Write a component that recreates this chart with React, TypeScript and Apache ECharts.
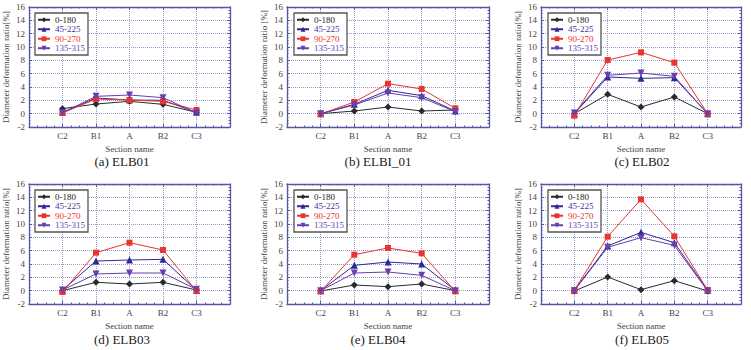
import React, { useEffect, useRef } from 'react';
import * as echarts from 'echarts';

// Section positions along the elbow and measured diametral directions
const sections = ['C2', 'B1', 'A', 'B2', 'C3'];
const directions = ['0-180', '45-225', '90-270', '135-315'];

// Diameter deformation ratio [%] per direction (rows follow `directions`)
const elb01 = [
  [0.75, 1.45, 1.85, 1.4, 0.2],
  [0.2, 2.35, 2.05, 2.0, 0.2],
  [0.1, 2.2, 2.05, 1.85, 0.55],
  [0.15, 2.6, 2.8, 2.4, 0.1],
];
const elbi01 = [
  [0.0, 0.4, 1.0, 0.4, 0.55],
  [0.0, 1.4, 3.5, 2.7, 0.4],
  [-0.05, 1.75, 4.5, 3.7, 0.8],
  [0.0, 1.3, 3.1, 2.4, 0.3],
];
const elb02 = [
  [0.0, 2.9, 1.0, 2.5, 0.0],
  [0.0, 5.5, 5.3, 5.4, 0.0],
  [-0.3, 8.05, 9.2, 7.65, 0.0],
  [0.1, 5.75, 6.1, 5.6, -0.05],
];
const elb03 = [
  [0.0, 1.25, 1.0, 1.25, 0.1],
  [0.1, 4.45, 4.6, 4.7, 0.05],
  [-0.2, 5.7, 7.2, 6.1, -0.05],
  [0.1, 2.5, 2.65, 2.65, 0.2],
];
const elb04 = [
  [-0.05, 0.85, 0.6, 1.0, 0.0],
  [0.0, 3.8, 4.3, 4.0, 0.05],
  [-0.1, 5.4, 6.4, 5.6, -0.1],
  [0.0, 2.65, 2.8, 2.3, 0.0],
];
const elb05 = [
  [-0.05, 2.05, 0.15, 1.5, -0.05],
  [0.05, 6.7, 8.75, 7.2, 0.05],
  [0.05, 8.1, 13.7, 8.15, 0.1],
  [0.0, 6.5, 7.95, 6.8, -0.05],
];

const panelData = [elb01, elbi01, elb02, elb03, elb04, elb05];
const captions = ['(a) ELB01', '(b) ELBI_01', '(c) ELB02', '(d) ELB03', '(e) ELB04', '(f) ELB05'];
const yNames = [
  'Diameter deformation ratio[%]',
  'Diameter deformation ratio [%]',
  'Diameter deformation ratio[%]',
  'Diameter deformation ratio[%]',
  'Diameter deformation ratio[%]',
  'Diameter deformation ratio[%]',
];

const lineColors = ['#2b2b2b', '#2a2a92', '#e8352f', '#6a3db0'];
const textColors = ['#222222', '#3a3aa0', '#e8352f', '#6a45b5'];
const symbols = ['diamond', 'triangle', 'rect', 'path://M0,0L2,0L1,1.8Z'];
const symbolSizes = [7, 7, 6, 7];

const FONT = 'Liberation Serif';
const FRAME = '#5656a6';
const GRIDLINE = '#9a9ac8';

const colLeft = [28, 287, 541];
const colWidth = [202, 202, 200];
const rowTop = [7, 184];
const plotH = 120;
const captionX = [122, 378, 642];
const captionY = [161, 339];

// Rich-text styles for the legend entries, one per direction
const legendRich: Record<string, any> = {};
directions.forEach((_, k) => {
  legendRich['d' + k] = { color: textColors[k], fontSize: 9, fontFamily: FONT, lineHeight: 9.5 };
});

function buildOption() {
  const grid: any[] = [];
  const xAxis: any[] = [];
  const yAxis: any[] = [];
  const series: any[] = [];
  const legend: any[] = [];
  const graphic: any[] = [];

  panelData.forEach((rows, i) => {
    const r = Math.floor(i / 3);
    const c = i % 3;
    grid.push({ left: colLeft[c], top: rowTop[r], width: colWidth[c], height: plotH, containLabel: false });

    const tick = { show: true, inside: true, length: 3, lineStyle: { color: FRAME, width: 1 } };
    const minor = { show: true, splitNumber: 4, length: 1.5, lineStyle: { color: FRAME, width: 1 } };
    const line = { show: true, onZero: false, lineStyle: { color: FRAME, width: 1.3 } };

    xAxis.push({
      gridIndex: i,
      type: 'value',
      min: 0,
      max: 6,
      interval: 1,
      axisLine: line,
      axisTick: tick,
      minorTick: minor,
      axisLabel: {
        formatter: (v: number) => sections[v - 1] ?? '',
        fontSize: 9,
        fontFamily: FONT,
        color: '#444',
        margin: 4,
      },
      splitLine: { show: true, lineStyle: { type: 'dotted', color: GRIDLINE, width: 1 } },
      name: 'Section name',
      nameLocation: 'middle',
      nameGap: 17,
      nameTextStyle: { fontSize: 9, fontFamily: FONT, color: '#444' },
    });
    xAxis.push({
      gridIndex: i,
      type: 'value',
      position: 'top',
      min: 0,
      max: 6,
      interval: 1,
      axisLine: line,
      axisTick: tick,
      minorTick: minor,
      axisLabel: { show: false },
      splitLine: { show: false },
    });
    yAxis.push({
      gridIndex: i,
      type: 'value',
      min: -2,
      max: 16,
      interval: 2,
      axisLine: line,
      axisTick: tick,
      minorTick: minor,
      axisLabel: { fontSize: 9, fontFamily: FONT, color: '#444', margin: 4 },
      splitLine: { show: true, lineStyle: { type: 'dotted', color: GRIDLINE, width: 1 } },
      name: yNames[i],
      nameLocation: 'middle',
      nameGap: 19,
      nameTextStyle: { fontSize: 9, fontFamily: FONT, color: '#444' },
    });
    yAxis.push({
      gridIndex: i,
      type: 'value',
      position: 'right',
      min: -2,
      max: 16,
      interval: 2,
      axisLine: line,
      axisTick: tick,
      minorTick: minor,
      axisLabel: { show: false },
      splitLine: { show: false },
    });

    rows.forEach((vals, k) => {
      series.push({
        type: 'line',
        name: directions[k],
        xAxisIndex: 2 * i,
        yAxisIndex: 2 * i,
        data: vals.map((v, j) => [j + 1, v]),
        symbol: symbols[k],
        symbolSize: symbolSizes[k],
        showAllSymbol: true,
        lineStyle: { color: lineColors[k], width: 1 },
        itemStyle: { color: lineColors[k] },
        z: 3 + k,
      });
    });

    legend.push({
      left: colLeft[c] + 7,
      top: rowTop[r] + 6,
      orient: 'vertical',
      itemGap: 0,
      itemWidth: 12,
      itemHeight: 6,
      padding: [2, 3, 2, 2],
      borderColor: '#555',
      borderWidth: 1.3,
      backgroundColor: '#ffffff',
      selectedMode: false,
      formatter: (name: string) => `{d${directions.indexOf(name)}|${name}}`,
      textStyle: { fontSize: 9, fontFamily: FONT, lineHeight: 9.5, rich: legendRich },
      data: directions,
    });

    graphic.push({
      type: 'text',
      x: captionX[c],
      y: captionY[r],
      style: {
        text: captions[i],
        align: 'center',
        verticalAlign: 'middle',
        textAlign: 'center',
        textVerticalAlign: 'middle',
        fontSize: 13,
        fontFamily: FONT,
        fill: '#222',
      },
    });
  });

  return {
    animation: false,
    backgroundColor: '#ffffff',
    textStyle: { fontFamily: FONT },
    grid,
    xAxis,
    yAxis,
    series,
    legend,
    graphic,
  };
}

export default function App() {
  const ref = useRef<HTMLDivElement>(null);
  useEffect(() => {
    if (!ref.current) return;
    const chart = echarts.init(ref.current, undefined, { renderer: 'svg' });
    chart.setOption(buildOption() as any);
    return () => chart.dispose();
  }, []);
  return (
    <div
      ref={ref}
      style={{ position: 'fixed', left: 0, top: 0, width: 751, height: 350, background: '#fff' }}
    />
  );
}
